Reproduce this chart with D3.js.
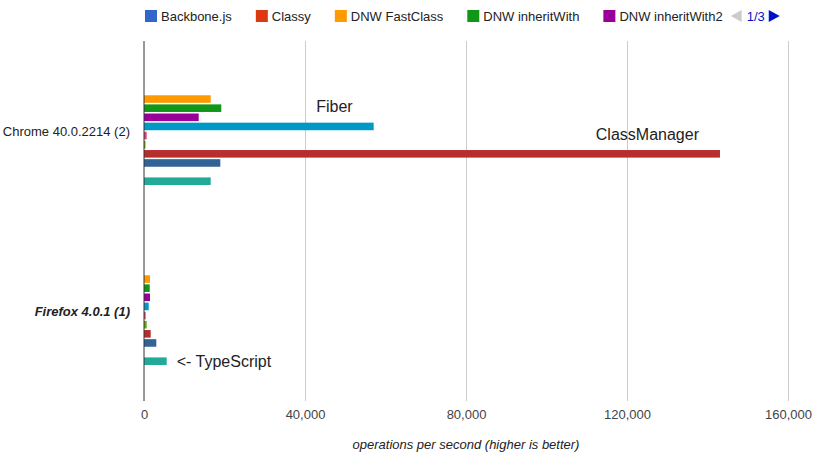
<!DOCTYPE html>
<html>
<head>
<meta charset="utf-8">
<script src="https://cdn.jsdelivr.net/npm/d3@7"></script>
<style>
  body { margin: 0; background: #fff; }
  text { font-family: Arial, "Liberation Sans", sans-serif; }
</style>
</head>
<body>
<div id="graph"></div>
<script>
WIDTH = 820;
HEIGHT = 469;

// browsers (categories)
var browsers = ["Chrome 40.0.2214 (2)", "Firefox 4.0.1 (1)"];

// series, top to bottom inside each group
var series = ["Backbone.js", "Classy", "DNW FastClass", "DNW inheritWith", "DNW inheritWith2",
  "Fiber", "John Resig", "JSFace", "ClassManager", "my.Class", "PrototypeJS", "TypeScript"];
var colors = ["#3366cc", "#dc3912", "#ff9900", "#109618", "#990099",
  "#0099c6", "#dd4477", "#66aa00", "#b82e2e", "#316395", "#994499", "#22aa99"];

// ops/sec, one array per browser, in series order
var chromeOps = [0, 0, 16570, 19200, 13590, 57060, 670, 370, 143100, 18960, 0, 16570];
var firefoxOps = [0, 0, 1490, 1420, 1490, 1170, 420, 670, 1660, 3060, 0, 5640];

var xTicks = [0, 40000, 80000, 120000, 160000];
var legendShown = 5; // page 1 of 3

// notes written next to some bars
var notes = [
  { browser: 0, series: "Fiber", text: "Fiber", pos: "above" },
  { browser: 0, series: "ClassManager", text: "ClassManager", pos: "above" },
  { browser: 1, series: "TypeScript", text: "<- TypeScript", pos: "right" }
];

var svg = d3.select("#graph").append("svg").attr("width", WIDTH).attr("height", HEIGHT);

var padL = 144, padR = 788, padT = 41, padB = 401;

var x = d3.scaleLinear().domain([0, 160000]).range([padL, padR]);
var y = d3.scaleBand().domain(browsers).range([padT, padB]);
var inner = d3.scaleBand().domain(series).range([-54, 54]).paddingInner(0.17);

var rows = [chromeOps, firefoxOps];

// grid lines
var grid = svg.append("g").attr("transform", "translate(0," + padB + ")")
  .call(d3.axisBottom(x).tickValues(xTicks.slice(1)).tickSize(-(padB - padT)).tickFormat(""));
grid.select(".domain").remove();
grid.selectAll("line").attr("stroke", "#cccccc");

// tick labels
var ax = svg.append("g").attr("transform", "translate(0," + (padB + 6) + ")")
  .call(d3.axisBottom(x).tickValues(xTicks).tickSize(0).tickFormat(d3.format(",")));
ax.select(".domain").remove();
ax.selectAll("text").attr("font-size", 13).attr("fill", "#444").attr("font-family", "Arial, 'Liberation Sans', sans-serif");

// bars
browsers.forEach(function(b, bi) {
  var g = svg.append("g").attr("transform", "translate(0," + (y(b) + y.bandwidth() / 2) + ")");
  g.selectAll("rect")
    .data(rows[bi].map(function(v, i) { return { v: v, s: series[i], c: colors[i] }; }))
    .enter()
    .filter(function(d) { return d.v > 0; })
    .append("rect")
    .attr("x", x(0))
    .attr("y", function(d) { return inner(d.s); })
    .attr("width", function(d) { return x(d.v) - x(0); })
    .attr("height", inner.bandwidth())
    .attr("fill", function(d) { return d.c; });
});

// baseline
svg.append("line").attr("x1", x(0)).attr("x2", x(0)).attr("y1", padT).attr("y2", padB)
  .attr("stroke", "#333").attr("stroke-width", 1);

// category labels
svg.selectAll(".cat").data(browsers).enter().append("text")
  .attr("x", padL - 14)
  .attr("y", function(d) { return y(d) + y.bandwidth() / 2; })
  .attr("dy", "0.35em")
  .attr("text-anchor", "end")
  .attr("font-size", 13)
  .attr("fill", "#222")
  .attr("font-weight", function(d, i) { return i == 1 ? "bold" : "normal"; })
  .attr("font-style", function(d, i) { return i == 1 ? "italic" : "normal"; })
  .text(function(d) { return d; });

// notes
notes.forEach(function(n) {
  var v = rows[n.browser][series.indexOf(n.series)];
  var cy = y(browsers[n.browser]) + y.bandwidth() / 2 + inner(n.series) + inner.bandwidth() / 2;
  var t = svg.append("text").attr("font-size", 16).attr("fill", "#222").text(n.text);
  if (n.pos == "above") {
    t.attr("x", x(v) - 21).attr("y", cy - 14).attr("text-anchor", "end");
  } else {
    t.attr("x", x(v) + 10).attr("y", cy + 6);
  }
});

// axis title
svg.append("text").attr("x", 466).attr("y", 449).attr("text-anchor", "middle")
  .attr("font-size", 13).attr("font-style", "italic").attr("fill", "#222")
  .text("operations per second (higher is better)");

// legend
var lg = svg.append("g");
var lx = 145;
for (var i = 0; i < legendShown; i++) {
  lg.append("rect").attr("x", lx).attr("y", 10).attr("width", 12).attr("height", 12).attr("fill", colors[i]);
  var lt = lg.append("text").attr("x", lx + 16).attr("y", 20.5).attr("font-size", 13).attr("fill", "#222").text(series[i]);
  lx += 16 + lt.node().getComputedTextLength() + 24;
}
lx -= 16;
lg.append("path").attr("d", "M" + (lx + 11) + ",10 L" + lx + ",16 L" + (lx + 11) + ",22 Z").attr("fill", "#cccccc");
var pt = lg.append("text").attr("x", lx + 16).attr("y", 20.5).attr("font-size", 13).attr("fill", "#0011cc").text("1/3");
var rx = lx + 16 + pt.node().getComputedTextLength() + 4;
lg.append("path").attr("d", "M" + rx + ",10 L" + (rx + 11) + ",16 L" + rx + ",22 Z").attr("fill", "#0011cc");
</script>
</body>
</html>
